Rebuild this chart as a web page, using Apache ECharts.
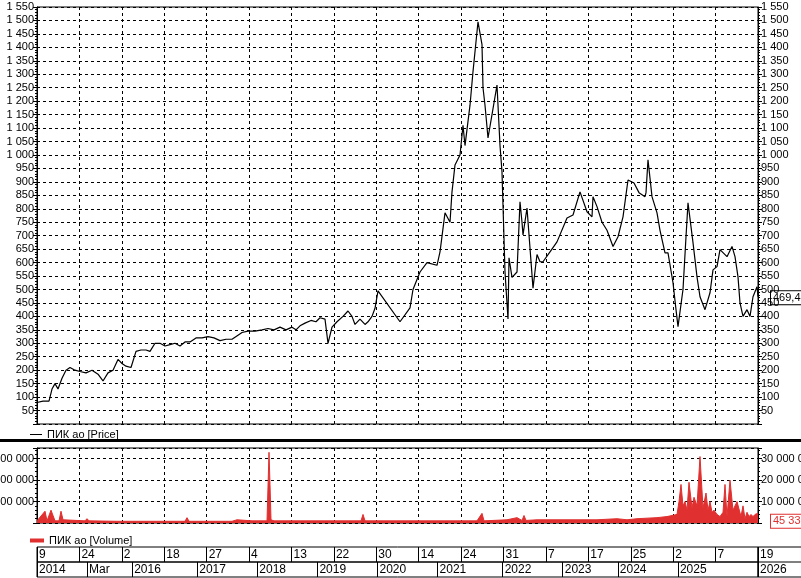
<!DOCTYPE html>
<html><head><meta charset="utf-8">
<script src="https://cdn.jsdelivr.net/npm/echarts@6/dist/echarts.min.js"></script>
<style>html,body{margin:0;padding:0;background:#fff}#c{width:801px;height:578px}</style>
</head><body><div id="c"></div>
<script>
// time position (0..721) and price
const priceT = [0,6,12,15,18,21,25,29,33,38,43,49,55,61,66,71,76,81,85,89,94,99,104,109,113,118,123,128,133,138,143,148,153,159,165,171,177,183,189,195,201,205,211,218,225,231,237,243,249,255,259,263,268,274,279,283,288,291,295,300,306,311,315,318,323,328,331,335,338,341,343,363,373,376,376,383,390,400,403,408,413,415,418,423,426,428,433,436,441,445,446,448,451,455,460,463,465,468,471,472,475,480,483,485,486,490,496,500,503,506,513,520,530,536,543,550,555,556,560,565,570,576,581,586,591,597,602,608,609,611,615,620,623,628,631,636,639,641,646,649,651,656,660,663,668,673,676,680,683,690,695,698,701,703,706,710,713,716,720,721];
const priceV = [80,85,85,130,150,130,170,200,210,200,195,190,200,185,160,190,200,240,225,215,210,270,275,275,270,300,300,290,295,300,290,305,305,320,320,325,320,310,315,315,330,340,345,345,350,355,350,360,350,360,350,365,375,385,380,395,390,300,360,380,400,420,400,370,390,370,380,400,430,495,500,380,432,500,500,565,600,590,640,785,750,863,963,1000,1110,1035,1185,1310,1495,1410,1250,1185,1063,1150,1260,1035,937,565,390,618,545,565,826,750,703,803,505,630,603,603,640,677,766,777,863,789,770,845,808,750,720,660,696,770,907,896,860,845,860,982,845,785,720,636,636,525,425,362,500,696,822,674,547,473,425,488,573,585,648,622,660,622,547,450,400,425,400,473,510,473,488,469.4];
// volume (millions of shares)
const volT = [0,8,10,12,14,18,20,22,24,26,28,48,50,52,80,148,150,152,195,200,215,230,232,233,234,235,236,237,238,324,326,328,400,420,440,445,447,449,470,480,485,487,489,500,520,560,580,590,600,620,630,640,642,644,646,648,650,652,655,657,660,663,666,669,671,673,675,677,680,683,686,688,690,693,696,700,704,706,708,710,712,714,716,718,721];
const volV = [1,5.5,1,1.5,6,1,1.2,1,5.5,1.5,1,1,2,1,0.8,0.8,2.5,0.8,0.8,1.5,1,1,33,18,1.5,1,1,1,1,1,4,1,1,1,1,4.5,1,1.5,1.5,2.5,1.2,3.5,1.2,1.5,1.5,1.5,2,1.5,2,2.5,3,4,10,18,8,10,6,19,7,12,8,31,7,14,6,10,5,6,4,3,5,18,3,20,6,10,3,8,2,5,3,4,3,4,4.5333];
const priceTicks = {min: 0, max: 1550, interval: 50};
const volTicks = {min: 0, max: 35, interval: 10};
const dayLabels = ['9','24','2','18','27','4','13','22','30','14','24','31','7','17','25','2','7','19'];
const yearLabels = ['2014','Mar','2016','2017','2018','2019','2020','2021','2022','2023','2024','2025','2026'];
const yearIdx = [0,10,19,32,44,56,68,80,93,105,116,128,144];

const yearCells = Array.from({length:145},()=> '');
yearIdx.forEach((k,i)=>{yearCells[k]=yearLabels[i];});
const F = 'Liberation Sans';
const fmt = v => String(v).replace(/\B(?=(\d{3})+(?!\d))/g,' ');
const L = 37, R = 43;
const chart = echarts.init(document.getElementById('c'));
const txt = {color:'#000',fontFamily:F,fontSize:11};
const dash = {show:true,lineStyle:{color:'#000',type:[3,3],width:1}};
const pf = v => v===0?'':fmt(v);
const vf = v => v===0?'':fmt(Math.round(v*1000000));
function yAx(pos, ticks, fm, grid, split){
  return {type:'value',position:pos,gridIndex:grid,min:ticks.min,max:ticks.max,interval:ticks.interval,
    axisLine:{show:true,lineStyle:{color:'#000'}},axisTick:{show:true,length:4,lineStyle:{color:'#000'}},
    minorTick:{show:true,splitNumber:5,length:2,lineStyle:{color:'#000'}},
    axisLabel:Object.assign({margin:3,formatter:fm},txt),splitLine:split?dash:{show:false}};
}
const gb = {show:true,borderColor:'#000',borderWidth:1,outerBoundsMode:'none',containLabel:false};
const cellLbl = {inside:true,align:'left',verticalAlign:'middle',margin:7,padding:[0,0,0,2],color:'#000',fontFamily:F,fontSize:12,showMaxLabel:true};
const base = [
  {left:L,right:R,top:7,height:417},
  {left:L,right:R,top:448,height:75},
  {left:L,right:R,top:547,height:15},
  {left:L,right:R,top:562,height:15}
].map(g=>Object.assign({},gb,g));
chart.setOption({
  animation:false,
  grid:base,
  xAxis:[
    {type:'value',gridIndex:0,min:0,max:721,interval:721/17,axisLine:{show:false},axisTick:{show:false},axisLabel:{show:false},splitLine:dash},
    {type:'value',gridIndex:1,min:0,max:721,interval:721/17,axisLine:{show:false},axisTick:{show:false},axisLabel:{show:false},splitLine:dash},
    {type:'category',gridIndex:2,data:dayLabels,boundaryGap:false,axisLine:{show:false},axisTick:{show:false},
     axisLabel:Object.assign({interval:0},cellLbl),splitLine:{show:true,interval:0,lineStyle:{color:'#000'}}},
    {type:'category',gridIndex:3,data:yearCells,boundaryGap:false,axisLine:{show:false},axisTick:{show:false},
     axisLabel:Object.assign({interval:(i,v)=>v!==''},cellLbl),
     splitLine:{show:true,interval:(i,v)=>v!=='',lineStyle:{color:'#000'}}}
  ],
  yAxis:[
    yAx('left',priceTicks,pf,0,true), yAx('right',priceTicks,pf,0,false),
    yAx('left',volTicks,vf,1,true), yAx('right',volTicks,vf,1,false),
    {type:'value',gridIndex:2,show:false},{type:'value',gridIndex:3,show:false}
  ],
  legend:[
    {left:25,top:424,itemWidth:12,itemHeight:1,icon:'rect',data:['ПИК ао [Price]'],textStyle:txt,itemGap:4},
    {left:25,top:530,itemWidth:14,itemHeight:4,icon:'rect',data:['ПИК ао [Volume]'],textStyle:txt}
  ],
  series:[
    {name:'ПИК ао [Price]',type:'line',xAxisIndex:0,yAxisIndex:0,symbol:'none',lineStyle:{color:'#000',width:1.2},itemStyle:{color:'#000'},
     data:priceT.map((t,i)=>[t,priceV[i]])},
    {name:'ПИК ао [Volume]',type:'line',xAxisIndex:1,yAxisIndex:2,symbol:'none',lineStyle:{color:'#e03030',width:1},itemStyle:{color:'#e03030'},
     areaStyle:{color:'#e03030',opacity:1},data:volT.map((t,i)=>[t,volV[i]])}
  ]
});
const lp = chart.convertToPixel({xAxisIndex:0,yAxisIndex:0},[priceT[priceT.length-1],priceV[priceV.length-1]]);
const lv = chart.convertToPixel({xAxisIndex:1,yAxisIndex:2},[volT[volT.length-1],volV[volV.length-1]]);
chart.setOption({graphic:[
  {type:'rect',shape:{x:0,y:439,width:801,height:3},style:{fill:'#000'}},
  {type:'rect',shape:{x:758,y:547,width:50,height:30},style:{fill:'none',stroke:'#000',lineWidth:1}},
  {type:'line',shape:{x1:758,y1:562,x2:801,y2:562},style:{stroke:'#000',lineWidth:1}},
  {type:'text',x:771,y:lp[1],style:{text:String(priceV[priceV.length-1]).replace('.',','),fill:'#000',font:'11px '+F,verticalAlign:'middle',backgroundColor:'#fff',borderColor:'#000',borderWidth:1,padding:[1,2]}},
  {type:'text',x:771,y:lv[1]+8,style:{text:fmt(Math.round(volV[volV.length-1]*10000)),fill:'#e03030',font:'11px '+F,verticalAlign:'middle',backgroundColor:'#fff',borderColor:'#e03030',borderWidth:1,padding:[1,2]}}
]});
</script></body></html>
